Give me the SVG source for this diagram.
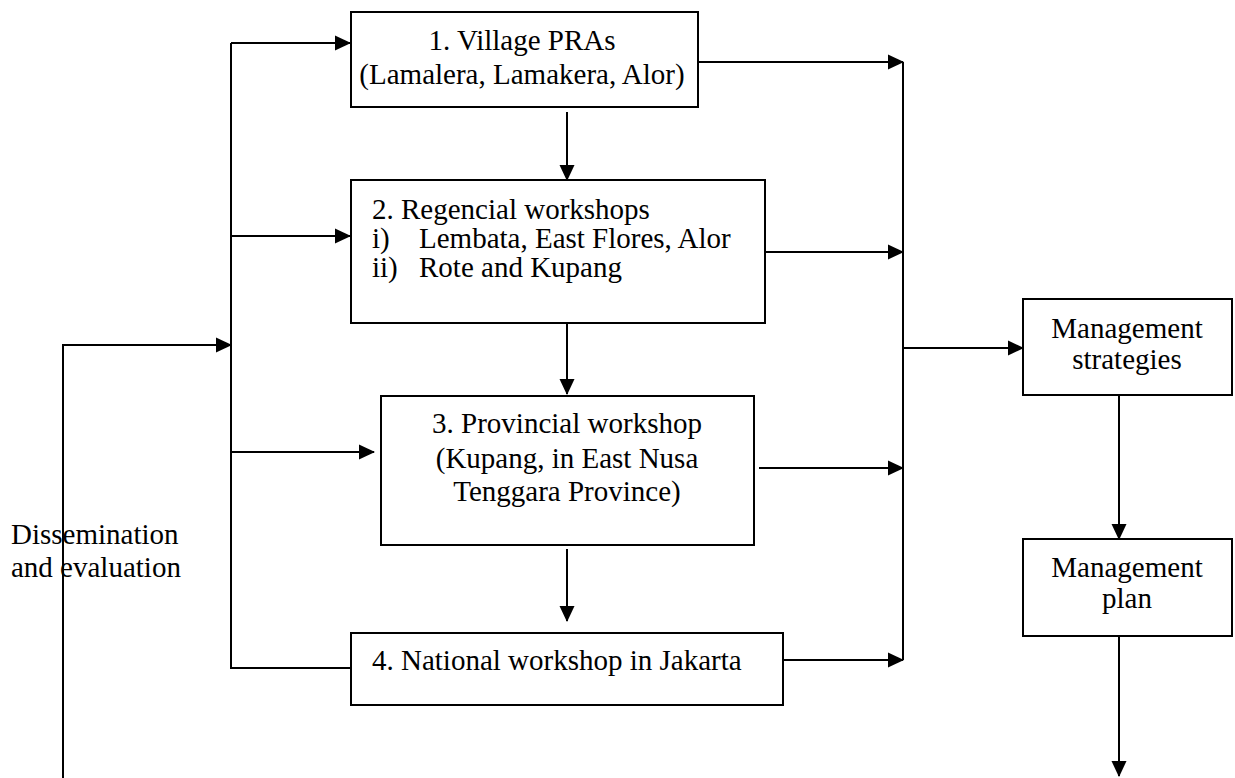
<svg xmlns="http://www.w3.org/2000/svg" width="1235" height="778" viewBox="0 0 1235 778">
<style>
.box{fill:#fff;stroke:#000;stroke-width:2}
.ln{fill:none;stroke:#000;stroke-width:2}
.ar{fill:none;stroke:#000;stroke-width:2;marker-end:url(#ah)}
text{font-family:"Liberation Serif","Times New Roman",serif;font-size:29px;fill:#000}
.c{text-anchor:middle}
</style>
<defs>
<marker id="ah" viewBox="0 0 16 16" refX="15" refY="8" markerWidth="16" markerHeight="16" markerUnits="userSpaceOnUse" orient="auto">
<path d="M0,0.5 L16,8 L0,15.5 z" fill="#000"/>
</marker>
</defs>
<rect width="1235" height="778" fill="#fff"/>
<g id="connectors">
<path class="ln" d="M231,43 V668 H351"/>
<path class="ar" d="M231,43 H350"/>
<path class="ar" d="M231,236 H350"/>
<path class="ar" d="M231,452 H374"/>
<path class="ar" d="M63,778 V345 H231"/>
<path class="ar" d="M567,112 V180"/>
<path class="ar" d="M567,323 V394"/>
<path class="ar" d="M567,549 V621"/>
<path class="ln" d="M903,62 V660"/>
<path class="ar" d="M698,62 H903"/>
<path class="ar" d="M765,252 H903"/>
<path class="ar" d="M759,468 H903"/>
<path class="ar" d="M783,660 H903"/>
<path class="ar" d="M903,348 H1023"/>
<path class="ar" d="M1119,395 V539"/>
<path class="ar" d="M1119,636 V776"/>
</g>
<g id="n1">
<rect class="box" x="351" y="12" width="347" height="95"/>
<text class="c" x="522" y="50">1. Village PRAs</text>
<text class="c" x="522" y="84">(Lamalera, Lamakera, Alor)</text>
</g>
<g id="n2">
<rect class="box" x="351" y="180" width="414" height="143"/>
<text x="372" y="219">2. Regencial workshops</text>
<text x="372" y="248">i)</text>
<text x="419" y="248">Lembata, East Flores, Alor</text>
<text x="372" y="277">ii)</text>
<text x="419" y="277">Rote and Kupang</text>
</g>
<g id="n3">
<rect class="box" x="381" y="396" width="373" height="149"/>
<text class="c" x="567" y="433">3. Provincial workshop</text>
<text class="c" x="567" y="468">(Kupang, in East Nusa</text>
<text class="c" x="567" y="501">Tenggara Province)</text>
</g>
<g id="n4">
<rect class="box" x="351" y="633" width="432" height="72"/>
<text x="372" y="670">4. National workshop in Jakarta</text>
</g>
<g id="n5">
<rect class="box" x="1023" y="299" width="209" height="96"/>
<text class="c" x="1127" y="338">Management</text>
<text class="c" x="1127" y="369">strategies</text>
</g>
<g id="n6">
<rect class="box" x="1023" y="539" width="209" height="97"/>
<text class="c" x="1127" y="577">Management</text>
<text class="c" x="1127" y="608">plan</text>
</g>
<g id="label">
<text x="11" y="544">Dissemination</text>
<text x="11" y="577">and evaluation</text>
</g>
</svg>
